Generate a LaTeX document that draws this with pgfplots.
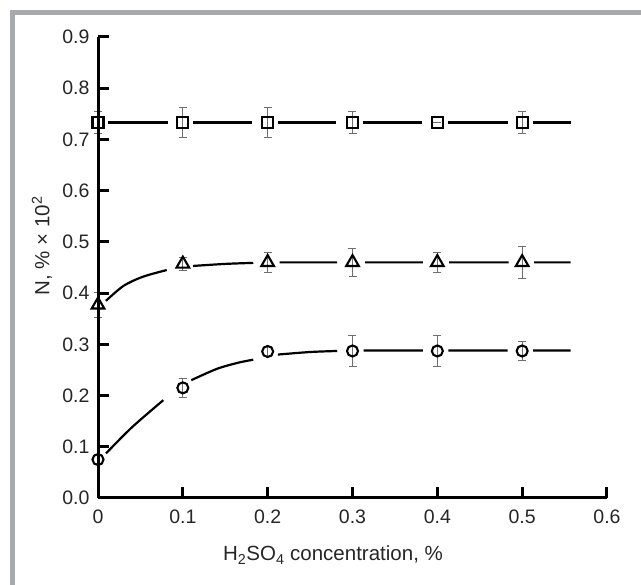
\documentclass[border=0pt]{standalone}
\usepackage{fontspec}
\setmainfont{Liberation Sans}
\usepackage{pgfplots}
\pgfplotsset{compat=1.18}
\definecolor{framegray}{RGB}{168,169,172}
\definecolor{errgray}{RGB}{110,110,110}
\begin{document}
\begin{tikzpicture}[x=1pt,y=1pt]
\useasboundingbox (0,0) rectangle (641,585);
% frame (top and left edges only)
\draw[line width=5pt, framegray] (12.5,0) -- (12.5,572.5) -- (641,572.5);
\begin{axis}[
    at={(98pt,87pt)}, anchor=south west,
    scale only axis, width=509pt, height=461pt,
    xmin=0, xmax=0.6, ymin=0, ymax=0.9,
    axis x line=bottom, axis y line=left,
    axis line style={-, line width=3pt},
    axis on top, clip=false,
    tick align=inside, major tick length=11pt,
    tick style={line width=3pt, black},
    xtick={0,0.1,0.2,0.3,0.4,0.5,0.6},
    xticklabels={0,0.1,0.2,0.3,0.4,0.5,0.6},
    ytick={0,0.1,0.2,0.3,0.4,0.5,0.6,0.7,0.8,0.9},
    yticklabels={0.0,0.1,0.2,0.3,0.4,0.5,0.6,0.7,0.8,0.9},
    ticklabel style={font=\fontsize{19.5}{22}\selectfont, text=black!85},
    yticklabel style={xshift=-5pt},
    xticklabel style={yshift=-8pt},
  ]
  % fitted curves
  \addplot[black, line width=2.2pt, unbounded coords=jump] coordinates {
    (0.012,0.733) (0.082,0.733) (0.09,nan)
    (0.112,0.733) (0.181,0.733) (0.19,nan)
    (0.212,0.733) (0.281,0.733) (0.29,nan)
    (0.312,0.733) (0.382,0.733) (0.39,nan)
    (0.412,0.733) (0.483,0.733) (0.49,nan)
    (0.513,0.733) (0.557,0.733)
  };
  \addplot[black, line width=2.2pt, smooth, unbounded coords=jump] coordinates {
    (0.0094,0.385) (0.030,0.414) (0.053,0.432) (0.081,0.445) (0.09,nan)
    (0.112,0.453) (0.15,0.457) (0.183,0.459) (0.19,nan)
    (0.214,0.46) (0.282,0.46) (0.29,nan)
    (0.315,0.46) (0.383,0.46) (0.39,nan)
    (0.414,0.46) (0.484,0.46) (0.49,nan)
    (0.514,0.46) (0.557,0.46)
  };
  \addplot[black, line width=2.2pt, smooth, unbounded coords=jump] coordinates {
    (0.0094,0.087) (0.04,0.138) (0.077,0.191) (0.09,nan)
    (0.110,0.230) (0.140,0.252) (0.165,0.264) (0.183,0.270) (0.19,nan)
    (0.212,0.280) (0.25,0.285) (0.282,0.287) (0.29,nan)
    (0.313,0.288) (0.383,0.288) (0.39,nan)
    (0.413,0.288) (0.483,0.288) (0.49,nan)
    (0.513,0.288) (0.557,0.288)
  };
  % error bars
  \pgfplotsset{ebar/.style={draw=none, forget plot,
      error bars/.cd, y dir=both, y explicit,
      error bar style={draw=errgray, line width=0.8pt},
      error mark options={draw=errgray, rotate=90, mark size=4pt, line width=0.8pt}}}
  \addplot[ebar] table[x=x, y=y, y error=e] {
    x   y     e
    0   0.733 0.022
    0.1 0.733 0.030
    0.2 0.733 0.030
    0.3 0.733 0.021
    0.4 0.733 0.000
    0.5 0.733 0.021
  };
  \addplot[ebar] table[x=x, y=y, y error=e] {
    x   y     e
    0   0.377 0.025
    0.1 0.457 0.012
    0.2 0.460 0.020
    0.3 0.460 0.028
    0.4 0.460 0.020
    0.5 0.460 0.031
  };
  \addplot[ebar] table[x=x, y=y, y error=e] {
    x   y     e
    0   0.075 0.010
    0.1 0.215 0.018
    0.2 0.286 0.010
    0.3 0.287 0.030
    0.4 0.287 0.030
    0.5 0.287 0.018
  };
  % markers
  \addplot[only marks, mark=square, mark size=5.5pt,
    mark options={draw=black, fill=white, line width=2.1pt}] coordinates {
    (0,0.733) (0.1,0.733) (0.2,0.733) (0.3,0.733) (0.4,0.733) (0.5,0.733)
  };
  \addplot[only marks, mark=triangle, mark size=7.3pt,
    mark options={draw=black, fill=white, line width=2.1pt}] coordinates {
    (0,0.377) (0.1,0.457) (0.2,0.460) (0.3,0.460) (0.4,0.460) (0.5,0.460)
  };
  \addplot[only marks, mark=o, mark size=5.5pt,
    mark options={draw=black, fill=white, line width=2.1pt}] coordinates {
    (0,0.075) (0.1,0.215) (0.2,0.286) (0.3,0.287) (0.4,0.287) (0.5,0.287)
  };
\end{axis}
\node[font=\fontsize{20.5}{24}\selectfont, text=black!85, anchor=base] at (333,24) {H\textsubscript{2}SO\textsubscript{4} concentration, \%};
\node[font=\fontsize{20.5}{24}\selectfont, text=black!85, rotate=90] at (42,339) {N, \% × 10\textsuperscript{2}};
\end{tikzpicture}
\end{document}
